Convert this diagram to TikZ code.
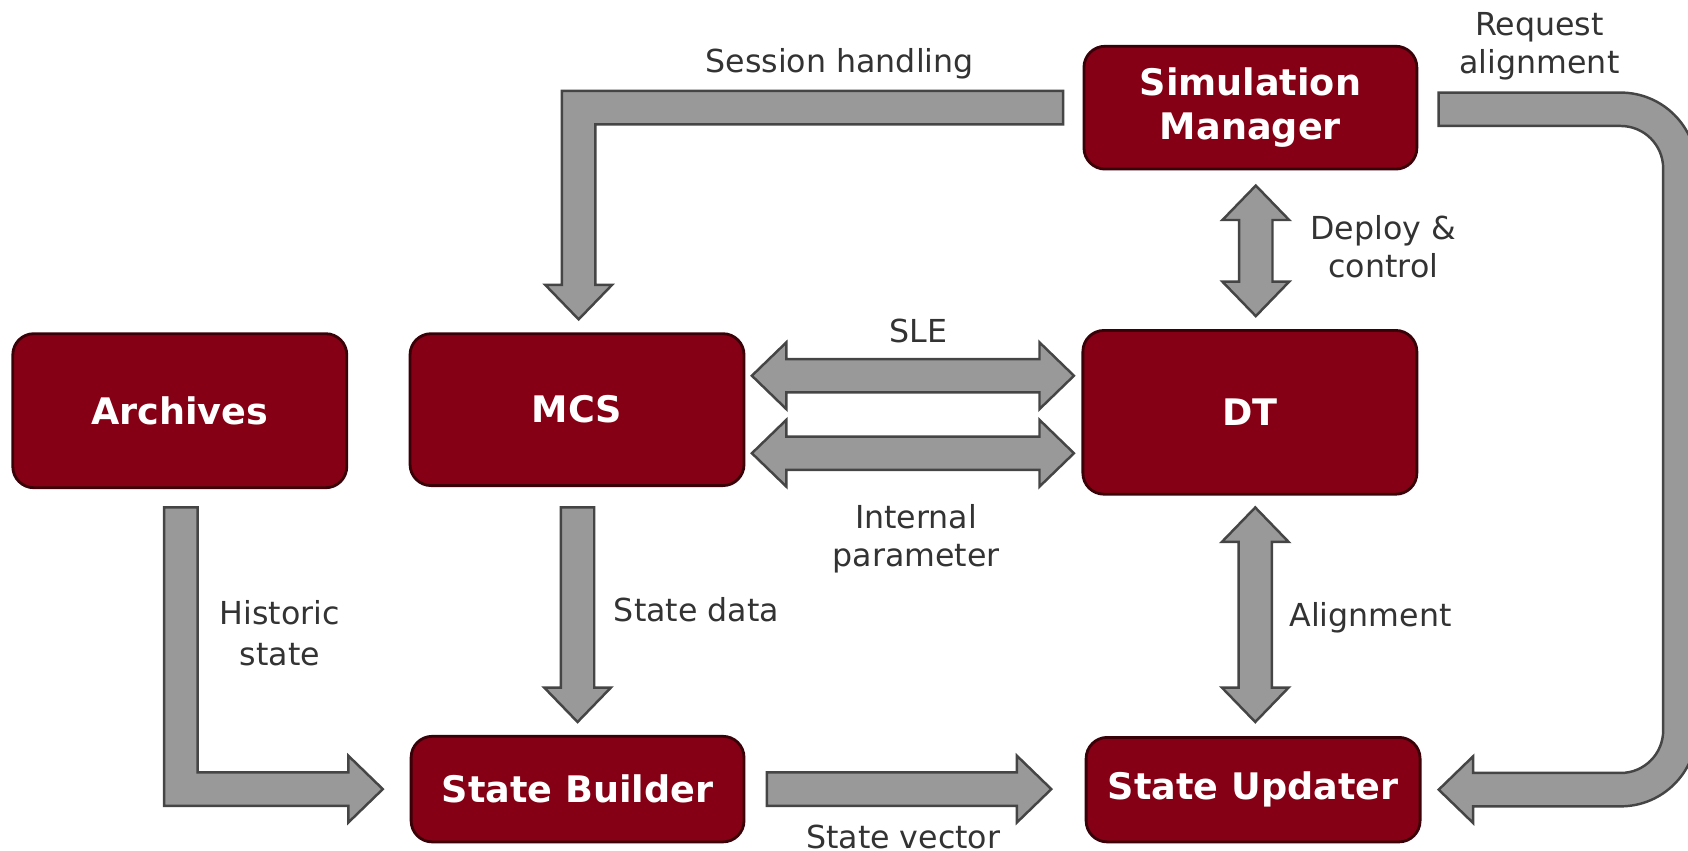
\documentclass[tikz,border=0pt]{standalone}
\usepackage{fontspec}
\setmainfont{DejaVu Sans}
\usetikzlibrary{calc}

\definecolor{boxred}{HTML}{850014}
\definecolor{boxedge}{HTML}{3A0008}
\definecolor{arrowfill}{HTML}{999999}
\definecolor{arrowedge}{HTML}{454545}
\definecolor{labeltext}{HTML}{333333}

% geometry of the block arrows: shaft half-width, head half-width, head length
\def\flowW{15.5}
\def\flowH{31}
\def\flowL{32}

\tikzset{
  block/.style={draw=boxedge, fill=boxred, line width=0.8pt, rounded corners=6pt,
    inner sep=0pt, text=white, align=center,
    font=\fontsize{10.4}{12.6}\selectfont\bfseries},
  % box size given in drawing units (1 unit = 0.30631pt)
  blocksize/.style 2 args={minimum width=#1*0.30631pt, minimum height=#2*0.30631pt},
  flow/.style={draw=arrowedge, fill=arrowfill, line width=0.7pt, line join=miter},
  lbl/.style={text=labeltext, align=center, inner sep=0pt,
    font=\fontsize{9}{10.8}\selectfont},
}

% straight block arrows between two named points
\newcommand\flowRight[2]{%
  \draw[flow] ($(#1)+(0,-\flowW)$) -- ($(#2)+(-\flowL,-\flowW)$) -- ($(#2)+(-\flowL,-\flowH)$)
    -- (#2) -- ($(#2)+(-\flowL,\flowH)$) -- ($(#2)+(-\flowL,\flowW)$) -- ($(#1)+(0,\flowW)$) -- cycle;}
\newcommand\flowDown[2]{%
  \draw[flow] ($(#1)+(-\flowW,0)$) -- ($(#2)+(-\flowW,-\flowL)$) -- ($(#2)+(-\flowH,-\flowL)$)
    -- (#2) -- ($(#2)+(\flowH,-\flowL)$) -- ($(#2)+(\flowW,-\flowL)$) -- ($(#1)+(\flowW,0)$) -- cycle;}
\newcommand\flowBothH[2]{%
  \draw[flow] (#1) -- ($(#1)+(\flowL,-\flowH)$) -- ($(#1)+(\flowL,-\flowW)$)
    -- ($(#2)+(-\flowL,-\flowW)$) -- ($(#2)+(-\flowL,-\flowH)$) -- (#2)
    -- ($(#2)+(-\flowL,\flowH)$) -- ($(#2)+(-\flowL,\flowW)$)
    -- ($(#1)+(\flowL,\flowW)$) -- ($(#1)+(\flowL,\flowH)$) -- cycle;}
\newcommand\flowBothV[2]{%
  \draw[flow] (#1) -- ($(#1)+(\flowH,\flowL)$) -- ($(#1)+(\flowW,\flowL)$)
    -- ($(#2)+(\flowW,-\flowL)$) -- ($(#2)+(\flowH,-\flowL)$) -- (#2)
    -- ($(#2)+(-\flowH,-\flowL)$) -- ($(#2)+(-\flowW,-\flowL)$)
    -- ($(#1)+(-\flowW,\flowL)$) -- ($(#1)+(-\flowH,\flowL)$) -- cycle;}

\begin{document}
\begin{tikzpicture}[x=0.010765cm, y=-0.010765cm]
\useasboundingbox (0,0) rectangle (1568,790);

% components
\node[block, blocksize={309}{114}] (sm)   at (1161.5,100)  {Simulation\\Manager};
\node[block, blocksize={310}{143}] (arch) at (167,381.5)   {Archives};
\node[block, blocksize={310}{141}] (mcs)  at (536,380.5)   {MCS};
\node[block, blocksize={310}{152}] (dt)   at (1161,383)    {DT};
\node[block, blocksize={309}{98}]  (sb)   at (536.5,733)   {State Builder};
\node[block, blocksize={310}{97}]  (su)   at (1164,733.5)  {State Updater};

% SLE and internal parameter exchange between MCS and DT
\coordinate (sleA) at ($(mcs.east)+(6,-31.5)$);
\coordinate (sleB) at ($(sleA -| dt.west)+(-7,0)$);
\flowBothH{sleA}{sleB}
\coordinate (ipA) at ($(mcs.east)+(6,40.5)$);
\coordinate (ipB) at ($(ipA -| dt.west)+(-7,0)$);
\flowBothH{ipA}{ipB}

% deploy & control
\coordinate (dcA) at ($(sm.south)+(5,14)$);
\coordinate (dcB) at ($(dcA |- dt.north)+(0,-12)$);
\flowBothV{dcA}{dcB}

% alignment
\coordinate (alA) at ($(dt.south)+(5,11)$);
\coordinate (alB) at ($(alA |- su.north)+(0,-13)$);
\flowBothV{alA}{alB}

% state data
\coordinate (sdT) at ($(mcs.south)+(0.5,19)$);
\coordinate (sdP) at ($(sdT |- sb.north)+(0,-12)$);
\flowDown{sdT}{sdP}

% state vector
\coordinate (svT) at ($(sb.east)+(20,0)$);
\coordinate (svP) at ($(svT -| su.west)+(-31,0)$);
\flowRight{svT}{svP}

% session handling: from the manager round to the top of MCS
\coordinate (shT) at ($(sm.west)+(-18,0)$);
\coordinate (shP) at ($(mcs.north)+(1.5,-12)$);
\coordinate (shC) at (shP |- shT);
\draw[flow] ($(shT)+(0,-\flowW)$) -- ($(shC)+(-\flowW,-\flowW)$) -- ($(shP)+(-\flowW,-\flowL)$)
  -- ($(shP)+(-\flowH,-\flowL)$) -- (shP) -- ($(shP)+(\flowH,-\flowL)$) -- ($(shP)+(\flowW,-\flowL)$)
  -- ($(shC)+(\flowW,\flowW)$) -- ($(shT)+(0,\flowW)$) -- cycle;

% historic state: from the archives into the state builder
\coordinate (hsT) at ($(arch.south)+(1,17)$);
\coordinate (hsP) at ($(sb.west)+(-25,0)$);
\coordinate (hsC) at (hsT |- hsP);
\draw[flow] ($(hsT)+(-\flowW,0)$) -- ($(hsC)+(-\flowW,\flowW)$) -- ($(hsP)+(-\flowL,\flowW)$)
  -- ($(hsP)+(-\flowL,\flowH)$) -- (hsP) -- ($(hsP)+(-\flowL,-\flowH)$) -- ($(hsP)+(-\flowL,-\flowW)$)
  -- ($(hsC)+(\flowW,-\flowW)$) -- ($(hsT)+(\flowW,0)$) -- cycle;

% request alignment: around the right side down to the state updater
\coordinate (raT) at ($(sm.east)+(19,1.5)$);
\coordinate (raP) at ($(su.east)+(16,0)$);
\draw[flow] ($(raT)+(0,-\flowW)$) -- ($(raT)+(169,-\flowW)$)
  arc[start angle=-90, end angle=0, radius=70.5]
  -- ($(raP)+(239.5,-55)$) arc[start angle=0, end angle=90, radius=70.5]
  -- ($(raP)+(\flowL,\flowW)$) -- ($(raP)+(\flowL,\flowH)$) -- (raP)
  -- ($(raP)+(\flowL,-\flowH)$) -- ($(raP)+(\flowL,-\flowW)$) -- ($(raP)+(169,-\flowW)$)
  arc[start angle=90, end angle=0, radius=39.5]
  -- ($(raT)+(208.5,55)$) arc[start angle=0, end angle=-90, radius=39.5]
  -- ($(raT)+(0,\flowW)$) -- cycle;

% labels
\node[lbl] (l-sh) at (780,59)    {Session handling};
\node[lbl] (l-ra) at (1430,42.5) {Request\\alignment};
\node[lbl] (l-dc) at (1285,229.5){Deploy \&\\control};
\node[lbl] (l-sle) at (853,307)  {SLE};
\node[lbl] (l-ip) at (851,500.5) {Internal\\parameter};
\node[lbl, font=\fontsize{9}{11.8}\selectfont] (l-hs) at (260,588) {Historic\\state};
\node[lbl] (l-sd) at (647,566)   {State data};
\node[lbl] (l-al) at (1273,574)  {Alignment};
\node[lbl] (l-sv) at (839,777)   {State vector};
\end{tikzpicture}
\end{document}
